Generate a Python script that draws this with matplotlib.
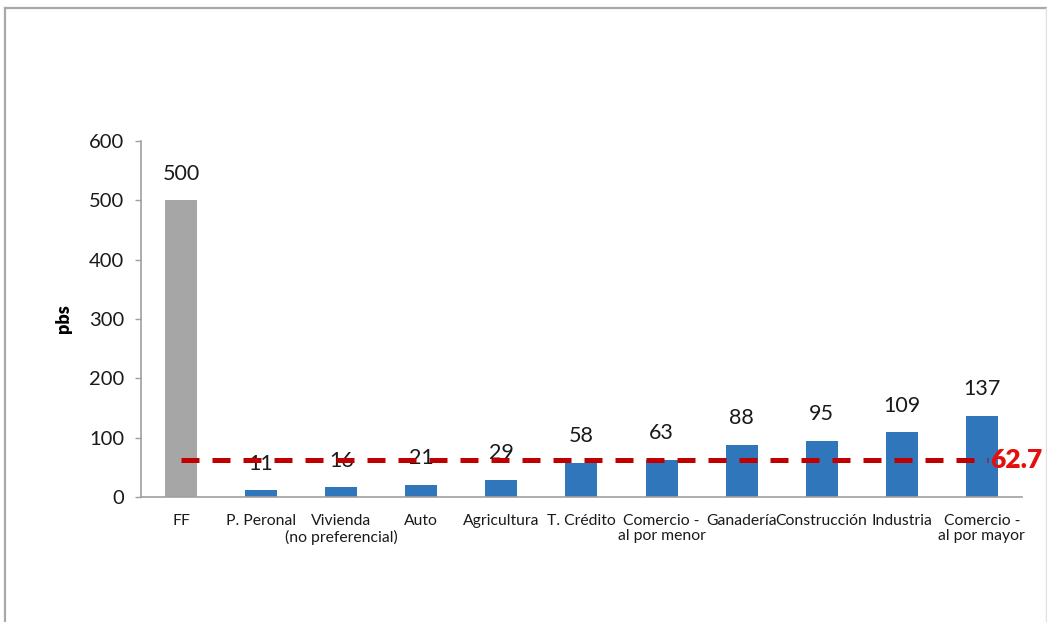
import matplotlib
matplotlib.use("Agg")
import matplotlib.pyplot as plt
from matplotlib.lines import Line2D

plt.rcParams['font.family'] = ['Lato', 'DejaVu Sans']

# Data
categories = ["FF", "P. Peronal", "Vivienda\n(no preferencial)", "Auto", "Agricultura",
              "T. Crédito", "Comercio -\nal por menor", "Ganadería", "Construcción",
              "Industria", "Comercio -\nal por mayor"]
values = [500, 11, 16, 21, 29, 58, 63, 88, 95, 109, 137]
average = 62.7
y_ticks = [0, 100, 200, 300, 400, 500, 600]

GRAY = "#A6A6A6"
BLUE = "#2F76BA"
colors = [GRAY] + [BLUE] * (len(values) - 1)

fig = plt.figure(figsize=(10.47, 6.22), dpi=100)
ax = fig.add_axes([0.1347, 0.2010, 0.8413, 0.5723])

x = list(range(len(categories)))
ax.bar(x, values, width=0.4, color=colors, zorder=2)

for xi, v in zip(x, values):
    ax.annotate(f"{v:g}", (xi, v), xytext=(0, 12), textcoords="offset points",
                ha="center", va="bottom", fontsize=15.5, color="#1a1a1a", zorder=3)

# Average line and its label
ax.plot([0, 10.08], [average, average], color="#C00000", lw=3.6,
        dashes=(3.6, 2.6), zorder=4, solid_capstyle="butt", clip_on=False)
ax.annotate(f"{average}", (10.08, average), xytext=(1, 0), textcoords="offset points",
            ha="left", va="center", fontsize=19, fontweight="heavy",
            color="#E41010", zorder=5, annotation_clip=False)

ax.set_xlim(-0.5, 10.5)
ax.set_ylim(0, 600)
ax.set_yticks(y_ticks)
ax.set_xticks(x)
ax.set_xticklabels(categories, fontsize=11.3, color="#1a1a1a", linespacing=1.15)
ax.tick_params(axis="x", length=0, pad=12)
ax.tick_params(axis="y", length=4, width=1, color="#A0A0A0", pad=8,
               labelsize=14.5, labelcolor="#1a1a1a")
ax.set_ylabel("pbs", fontsize=13, fontweight="heavy", labelpad=12)

for side in ("top", "right"):
    ax.spines[side].set_visible(False)
for side in ("left", "bottom"):
    ax.spines[side].set_color("#A0A0A0")
    ax.spines[side].set_linewidth(1.2)

# Outer frame around the chart area
W, H = 1047, 622
frame_kw = dict(transform=fig.transFigure, color="#A8A8A8", lw=1.6)
fig.add_artist(Line2D([4.5 / W, 4.5 / W], [0, 1 - 8 / H], **frame_kw))
fig.add_artist(Line2D([4.5 / W, 1], [1 - 8 / H, 1 - 8 / H], **frame_kw))
fig.add_artist(Line2D([1046 / W, 1046 / W], [0, 1 - 8 / H],
                      transform=fig.transFigure, color="#E0E0E0", lw=1))

fig.savefig("out.png", dpi=100)
